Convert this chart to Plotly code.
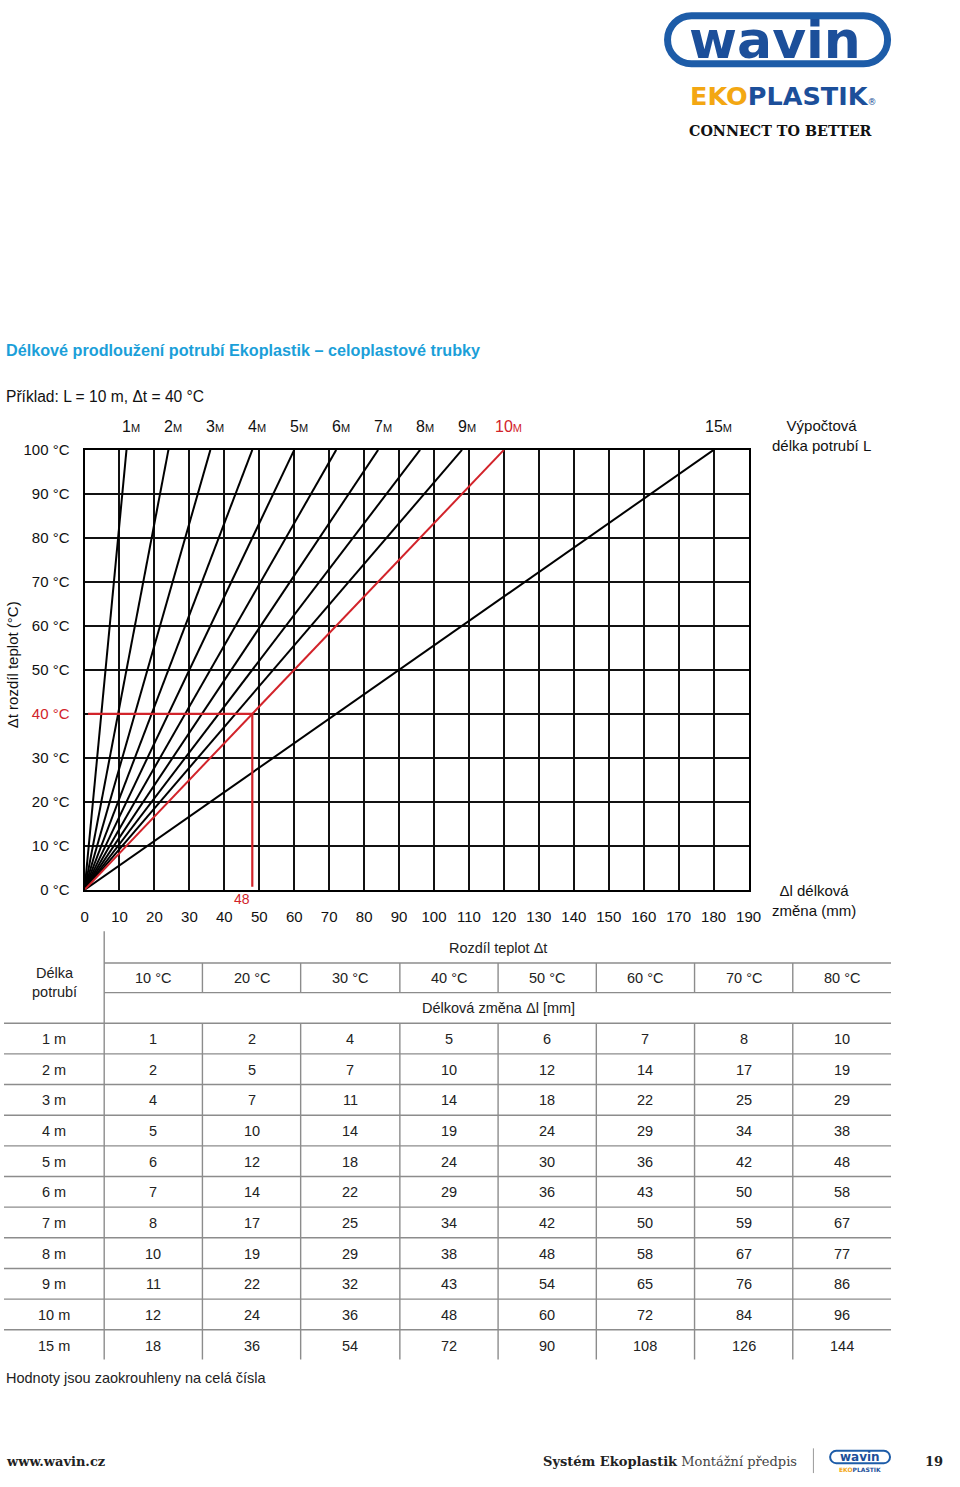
import plotly.graph_objects as go

W, H = 960, 1487

# ---------------- data ----------------
pipe_lengths = [1, 2, 3, 4, 5, 6, 7, 8, 9, 10, 15]           # m
dl_at_100C = [12, 24, 36, 48, 60, 72, 84, 96, 108, 120, 180]  # mm at dt = 100 °C
dt_ticks = [0, 10, 20, 30, 40, 50, 60, 70, 80, 90, 100]
dl_ticks = list(range(0, 200, 10))
example_L = 10
example_dt = 40
example_dl = 48

table_temps = ["10 °C", "20 °C", "30 °C", "40 °C", "50 °C", "60 °C", "70 °C", "80 °C"]
table_lengths = ["1 m", "2 m", "3 m", "4 m", "5 m", "6 m", "7 m", "8 m", "9 m", "10 m", "15 m"]
table_values = [
    [1, 2, 4, 5, 6, 7, 8, 10],
    [2, 5, 7, 10, 12, 14, 17, 19],
    [4, 7, 11, 14, 18, 22, 25, 29],
    [5, 10, 14, 19, 24, 29, 34, 38],
    [6, 12, 18, 24, 30, 36, 42, 48],
    [7, 14, 22, 29, 36, 43, 50, 58],
    [8, 17, 25, 34, 42, 50, 59, 67],
    [10, 19, 29, 38, 48, 58, 67, 77],
    [11, 22, 32, 43, 54, 65, 76, 86],
    [12, 24, 36, 48, 60, 72, 84, 96],
    [18, 36, 54, 72, 90, 108, 126, 144],
]

# ---------------- styles ----------------
RED = "#d2232a"
BLUE_T = "#1b9fd9"
WBLUE = "#1c4f9a"
YEL = "#f3a712"
FONT = "Liberation Sans, Arial, sans-serif"
SERIF = "DejaVu Serif, serif"


def P(x):
    return x / W


def Q(y):
    return 1 - y / H


fig = go.Figure()

# chart lines
order = [i for i in range(len(pipe_lengths)) if pipe_lengths[i] != example_L] + \
        [i for i in range(len(pipe_lengths)) if pipe_lengths[i] == example_L]
for i in order:
    L = pipe_lengths[i]
    fig.add_trace(go.Scatter(
        x=[0, dl_at_100C[i]], y=[0, 100], mode="lines",
        line=dict(color=RED if L == example_L else "#000", width=2),
        showlegend=False, hoverinfo="skip"))

# example construction lines
fig.add_trace(go.Scatter(
    x=[1, example_dl, example_dl], y=[example_dt, example_dt, 0.7], mode="lines",
    line=dict(color=RED, width=2.2), showlegend=False, hoverinfo="skip"))

ytext = [("<span style='color:%s'>%d °C</span>" % (RED, v)) if v == example_dt else "%d °C" % v
         for v in dt_ticks]

fig.update_layout(
    width=W, height=H, autosize=False,
    margin=dict(l=0, r=0, t=0, b=0),
    paper_bgcolor="white", plot_bgcolor="white",
    xaxis=dict(domain=[P(82), P(758)], range=[0, 190], tickvals=dl_ticks,
               showgrid=True, gridcolor="#111", gridwidth=1.5, zeroline=False,
               showline=True, linecolor="#000", linewidth=2, mirror=True,
               ticks="", ticklabelstandoff=12,
               tickfont=dict(family=FONT, size=15, color="#111"), fixedrange=True),
    yaxis=dict(domain=[Q(891), Q(446)], range=[0, 100], tickvals=dt_ticks, ticktext=ytext,
               showgrid=True, gridcolor="#111", gridwidth=1.5, zeroline=False,
               showline=True, linecolor="#000", linewidth=2, mirror=True,
               ticks="", ticklabelstandoff=10,
               tickfont=dict(family=FONT, size=15, color="#111"), fixedrange=True),
)

ann = []


def txt(x, y, s, size=15, color="#111", anchor="left", family=FONT, **kw):
    d = dict(x=P(x), y=Q(y), xref="paper", yref="paper", text=s, showarrow=False,
             xanchor=anchor, yanchor="middle", font=dict(family=family, size=size, color=color))
    d.update(kw)
    ann.append(d)


# top line labels
for L, dl in zip(pipe_lengths, dl_at_100C):
    col = RED if L == example_L else "#111"
    ann.append(dict(x=dl, y=Q(422), xref="x", yref="paper", xshift=5,
                    text="%d<span style='font-size:11px'>M</span>" % L, showarrow=False,
                    xanchor="center", yanchor="middle",
                    font=dict(family=FONT, size=16, color=col)))

# "48" label
ann.append(dict(x=example_dl, y=Q(900), xref="x", yref="paper", xshift=-10,
                text=str(example_dl), showarrow=False, xanchor="center", yanchor="middle",
                font=dict(family=FONT, size=14, color=RED)))

# titles
txt(0, 345, "<b>Délkové prodloužení potrubí Ekoplastik – celoplastové trubky</b>", size=16.2, color=BLUE_T)
txt(0, 392, "Příklad: L = 10 m, Δt = 40 °C", size=15.6)
txt(780, 431, "Výpočtová<br>délka potrubí L", size=15)
txt(780, 902, "Δl délková<br>změna (mm)", size=15)
txt(9, 663, "Δt rozdíl teplot (°C)", size=15, anchor="center", textangle=-90)

# ---------------- table ----------------
shapes = []
TC = "#8c8c8c"


def hline(x0, x1, y):
    shapes.append(dict(type="line", xref="paper", yref="paper", x0=P(x0), x1=P(x1),
                       y0=Q(y), y1=Q(y), line=dict(color=TC, width=1.4)))


def vline(x, y0, y1):
    shapes.append(dict(type="line", xref="paper", yref="paper", x0=P(x), x1=P(x),
                       y0=Q(y0), y1=Q(y1), line=dict(color=TC, width=1.4)))


col_edges = [0, 102, 202, 302, 403, 503, 603, 703, 803, 903]
row0 = 1026
rowh = 31
nrows = len(table_lengths)

vline(102, 933, row0 + rowh * nrows - 1)
for xe in col_edges[2:-1]:
    vline(xe, 965, 995)
    vline(xe, row0, row0 + rowh * nrows - 1)
hline(102, 903, 965)
hline(102, 903, 995)
for r in range(nrows):
    hline(0, 903, row0 + rowh * r)

TS = 14.5
txt(503, 950, "Rozdíl teplot Δt", size=TS, anchor="center", color="#222")
txt(503, 1011, "Délková změna Δl [mm]", size=TS, anchor="center", color="#222")
txt(51, 985, "Délka<br>potrubí", size=TS, anchor="center", color="#222")
for j, t in enumerate(table_temps):
    cx = (col_edges[j + 1] + col_edges[j + 2]) / 2
    txt(cx, 980, t, size=TS, anchor="center", color="#222")
for r, (lab, vals) in enumerate(zip(table_lengths, table_values)):
    cy = row0 + rowh * r + 16
    txt(51, cy, lab, size=TS, anchor="center", color="#222")
    for j, v in enumerate(vals):
        cx = (col_edges[j + 1] + col_edges[j + 2]) / 2
        txt(cx, cy, str(v), size=TS, anchor="center", color="#222")

txt(0, 1385, "Hodnoty jsou zaokrouhleny na celá čísla", size=TS, color="#222")


# ---------------- logo ----------------
def stadium(x0, y0, x1, y1):
    r = (y1 - y0) / 2
    k = 0.5523 * r
    pts = [("M", [(x0 + r, y0)]), ("L", [(x1 - r, y0)]),
           ("C", [(x1 - r + k, y0), (x1, y0 + r - k), (x1, y0 + r)]),
           ("C", [(x1, y0 + r + k), (x1 - r + k, y1), (x1 - r, y1)]),
           ("L", [(x0 + r, y1)]),
           ("C", [(x0 + r - k, y1), (x0, y1 - r + k), (x0, y0 + r)]),
           ("C", [(x0, y0 + r - k), (x0 + r - k, y0), (x0 + r, y0)])]
    s = ""
    for c, pl in pts:
        s += c + " " + " ".join("%.6f,%.6f" % (P(a), Q(b)) for a, b in pl) + " "
    return s + "Z"


shapes.append(dict(type="path", xref="paper", yref="paper", path=stadium(675.5, 6.8, 899.5, 55.5),
                   line=dict(color="#1d5ca8", width=7), fillcolor="white"))
txt(785, 31, "<b>wavin</b>", size=52, color=WBLUE, anchor="center", family="DejaVu Sans, sans-serif")
txt(696, 88, "<b><span style='color:%s'>EKO</span><span style='color:%s'>PLASTIK</span></b>"
    "<span style='font-size:9px;color:%s'>®</span>" % (YEL, WBLUE, WBLUE),
    size=25.5, family="DejaVu Sans, sans-serif")
txt(695, 123, "<b>CONNECT TO BETTER</b>", size=14.3, color="#111", family=SERIF)

# ---------------- footer ----------------
txt(0, 1469, "<b>www.wavin.cz</b>", size=13, color="#222", family=SERIF)
txt(809, 1469, "<b>Systém Ekoplastik</b> <span style='color:#444'>Montážní předpis</span>",
    size=13, color="#222", family=SERIF, anchor="right")
vline(824, 1456, 1481)
shapes[-1]["line"] = dict(color="#999", width=1)
shapes.append(dict(type="path", xref="paper", yref="paper", path=stadium(841, 1458.5, 902, 1471),
                   line=dict(color="#1d5ca8", width=2), fillcolor="white"))
txt(871.5, 1465, "<b>wavin</b>", size=12, color=WBLUE, anchor="center", family="DejaVu Sans, sans-serif")
txt(871.5, 1477.5, "<b><span style='color:%s'>EKO</span><span style='color:%s'>PLASTIK</span></b>" % (YEL, WBLUE),
    size=6, anchor="center", family="DejaVu Sans, sans-serif")
txt(958, 1469, "<b>19</b>", size=13, color="#222", anchor="right", family=SERIF)

fig.update_layout(annotations=ann, shapes=shapes)
fig.write_html(
    "out.html",
    post_script="document.body.style.margin='0';",
)
